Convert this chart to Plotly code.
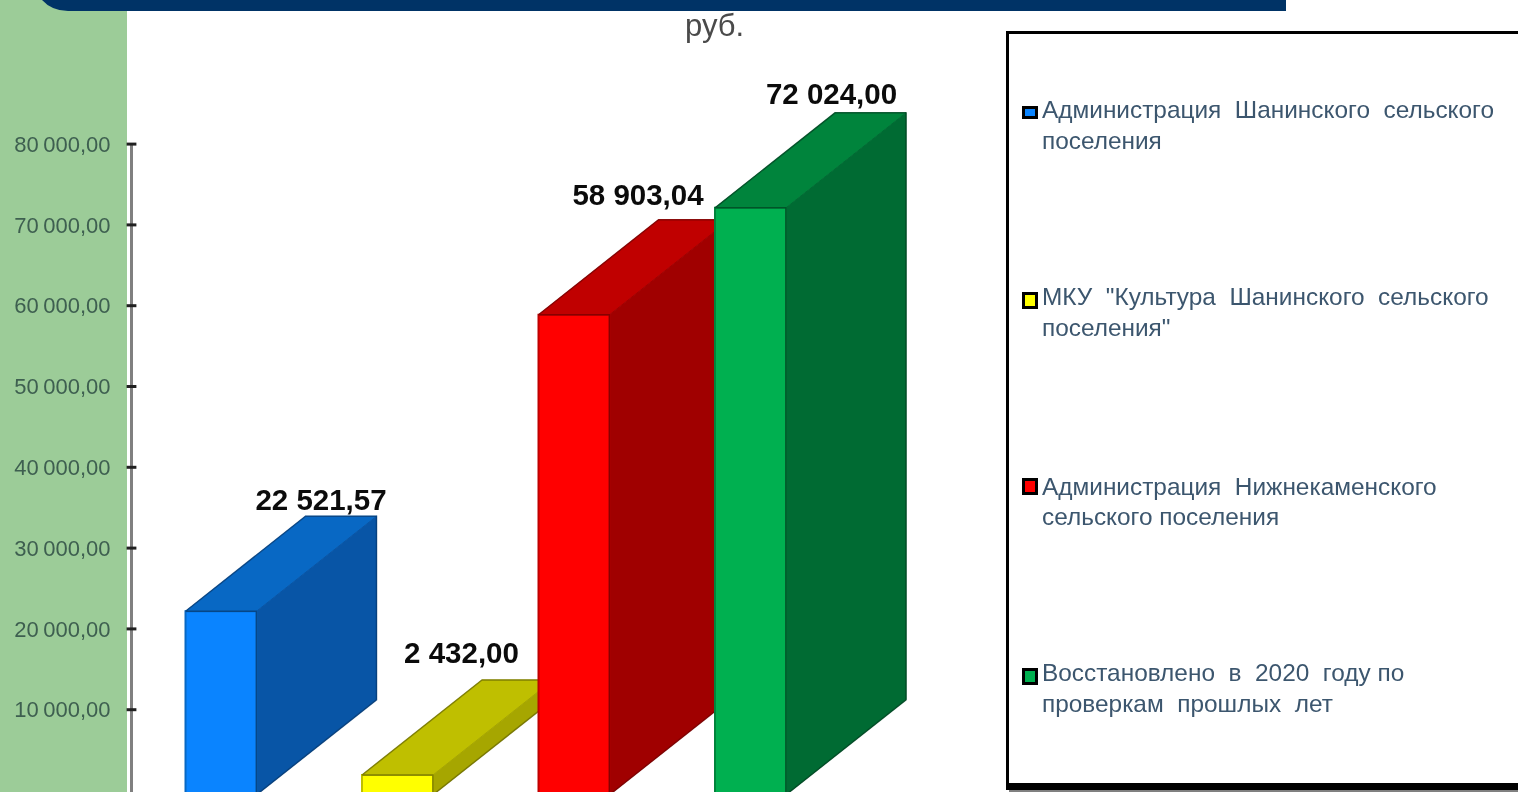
import plotly.graph_objects as go

# ---------- data ----------
categories = [
    "Администрация Шанинского сельского поселения",
    "МКУ \"Культура Шанинского сельского поселения\"",
    "Администрация Нижнекаменского сельского поселения",
    "Восстановлено в 2020 году по проверкам прошлых лет",
]
values = [22521.57, 2432.00, 58903.04, 72024.00]
value_labels = ["22 521,57", "2 432,00", "58 903,04", "72 024,00"]
legend_line1 = ["Администрация  Шанинского  сельского", "МКУ  \"Культура  Шанинского  сельского",
                "Администрация  Нижнекаменского", "Восстановлено  в  2020  году по"]
legend_line2 = ["поселения", "поселения\"", "сельского поселения", "проверкам  прошлых  лет"]
tick_values = [10000, 20000, 30000, 40000, 50000, 60000, 70000, 80000]
tick_labels = ["10\u2009000,00", "20\u2009000,00", "30\u2009000,00", "40\u2009000,00",
               "50\u2009000,00", "60\u2009000,00", "70\u2009000,00", "80\u2009000,00"]

# ---------- styles ----------
front_colors = ["#0A84FF", "#FFFF00", "#FF0000", "#00B050"]
top_colors = ["#0868C4", "#BFBF00", "#C00000", "#00843C"]
side_colors = ["#0855A6", "#A6A600", "#A00000", "#006B33"]
edge_colors = ["#06386E", "#666600", "#700000", "#004020"]

W, H = 1518, 792
PX_PER_CAT = 176.5
# visible tick axis
TICK_PX_PER_VAL = 80.8 / 10000
TICK_Y0_PX = 790.5
yr_ticks = [-(H - TICK_Y0_PX) / TICK_PX_PER_VAL, TICK_Y0_PX / TICK_PX_PER_VAL]
# hidden axis for the bars (their floor sits slightly below the tick axis zero)
PX_PER_VAL = 0.00815
Y0_PX = 794.8
yr = [-(H - Y0_PX) / PX_PER_VAL, Y0_PX / PX_PER_VAL]
X0_PX = 221
xr = [-X0_PX / PX_PER_CAT, (W - X0_PX) / PX_PER_CAT]
BAR_W = 71 / PX_PER_CAT
DEPTH_X = 120 / PX_PER_CAT
DEPTH_Y = 95 / PX_PER_VAL
label_dx = [100 / PX_PER_CAT, 64 / PX_PER_CAT, 64 / PX_PER_CAT, 81 / PX_PER_CAT]
label_dy = [14 / PX_PER_VAL, 24 / PX_PER_VAL, 22 / PX_PER_VAL, 16 / PX_PER_VAL]
AXIS_X = xr[0] + 131.5 / PX_PER_CAT

fig = go.Figure()


def poly(xs, ys, fill, edge, width=1.5):
    fig.add_trace(go.Scatter(x=xs + xs[:1], y=ys + ys[:1], mode="lines", fill="toself", yaxis="y2",
                             fillcolor=fill, line=dict(color=edge, width=width),
                             hoverinfo="skip", showlegend=False))


for i, v in enumerate(values):
    l, r = i - BAR_W / 2, i + BAR_W / 2
    poly([l, r, r + DEPTH_X, l + DEPTH_X], [v, v, v + DEPTH_Y, v + DEPTH_Y], top_colors[i], top_colors[i], 1)
    poly([r, r + DEPTH_X, r + DEPTH_X, r], [0, DEPTH_Y, v + DEPTH_Y, v], side_colors[i], side_colors[i], 1)
    poly([l, r, r, l], [0, 0, v, v], front_colors[i], top_colors[i], 2)
    fig.add_trace(go.Scatter(x=[l, l + DEPTH_X, r + DEPTH_X, r + DEPTH_X, r, r, l],
                             y=[v, v + DEPTH_Y, v + DEPTH_Y, DEPTH_Y, 0, v, v],
                             mode="lines", yaxis="y2", line=dict(color=edge_colors[i], width=1.5),
                             opacity=0.7, hoverinfo="skip", showlegend=False))

# data labels
fig.add_trace(go.Scatter(
    x=[i + label_dx[i] for i in range(4)],
    y=[v + DEPTH_Y + label_dy[i] for i, v in enumerate(values)],
    text=value_labels, mode="text", textposition="middle center", yaxis="y2",
    textfont=dict(family="Liberation Sans", size=29.5, color="#0b0b0b", weight="bold"),
    hoverinfo="skip", showlegend=False, cliponaxis=False))

# axis line from the bottom edge up to the top tick, tick marks crossing it
fig.add_trace(go.Scatter(x=[AXIS_X, AXIS_X], y=[yr_ticks[0], tick_values[-1]], mode="lines",
                         line=dict(color="#808080", width=3), hoverinfo="skip", showlegend=False))
fig.add_trace(go.Scatter(
    x=[AXIS_X] * len(tick_values), y=tick_values, mode="markers",
    marker=dict(symbol="line-ew", size=7, line=dict(color="#202020", width=3)),
    hoverinfo="skip", showlegend=False, cliponaxis=False))


def px(x):
    return x / W


def py(y):
    return 1 - y / H


def rect(x0, x1, y0, y1, color, layer="above"):
    return dict(type="rect", xref="paper", yref="paper", layer=layer, x0=px(x0), x1=px(x1), y0=py(y1), y1=py(y0),
                fillcolor=color, line_width=0)


shapes = [
    rect(0, 127, 0, 792, "#9CCC98", "below"),
    dict(type="path", xref="paper", yref="paper", layer="above",
         path=f"M {px(42)} {py(0)} Q {px(52)} {py(11)} {px(68)} {py(11)} L {px(1286)} {py(11)} L {px(1286)} {py(0)} Z",
         fillcolor="#003366", line_width=0),
    rect(1009, 1530, 40, 793, "#808080"),
    rect(1006, 1530, 31, 790, "#000000"),
    rect(1009, 1530, 34, 783, "#FFFFFF"),
]

legend_y1 = [110, 296, 486, 672]
legend_y2 = [141, 327, 516, 703]
swatch_top = [106, 292, 478, 668]
swatch_bot = [119, 309, 495, 685]
annotations = []
for i in range(4):
    shapes.append(rect(1022, 1038, swatch_top[i], swatch_bot[i], "#000000"))
    shapes.append(rect(1025, 1035, swatch_top[i] + 3, swatch_bot[i] - 3, front_colors[i]))
    for txt, yy in ((legend_line1[i], legend_y1[i]), (legend_line2[i], legend_y2[i])):
        annotations.append(dict(text=txt, xref="paper", yref="paper", x=px(1040), y=py(yy), xanchor="left",
                                yanchor="middle", showarrow=False,
                                font=dict(family="Liberation Sans", size=24.4, color="#3C566E")))
annotations.append(dict(text="руб.", xref="paper", yref="paper", x=px(714), y=py(25), xanchor="center", yanchor="middle",
                        showarrow=False, font=dict(family="Liberation Sans", size=31, color="#4A4A4A")))

fig.update_layout(
    width=W, height=H, autosize=False, margin=dict(l=0, r=0, t=0, b=0),
    paper_bgcolor="#FFFFFF", plot_bgcolor="rgba(0,0,0,0)", showlegend=False,
    shapes=shapes, annotations=annotations,
    xaxis=dict(range=xr, visible=False, fixedrange=True),
    yaxis=dict(range=yr_ticks, anchor="free", position=131.5 / W, showline=False,
               showgrid=False, zeroline=False, tickvals=tick_values, ticktext=tick_labels, ticks="",
               ticklabelstandoff=21, tickfont=dict(family="Liberation Sans", size=22, color="#3E5F50"),
               fixedrange=True),
    yaxis2=dict(range=yr, overlaying="y", visible=False, fixedrange=True),
)

fig.write_html("out.html", config={"displayModeBar": False},
               post_script="document.body.style.margin='0';document.body.style.overflow='hidden';"
                           "document.querySelectorAll('.svg-container').forEach(function(e){e.style.filter='blur(0.7px)';});")
